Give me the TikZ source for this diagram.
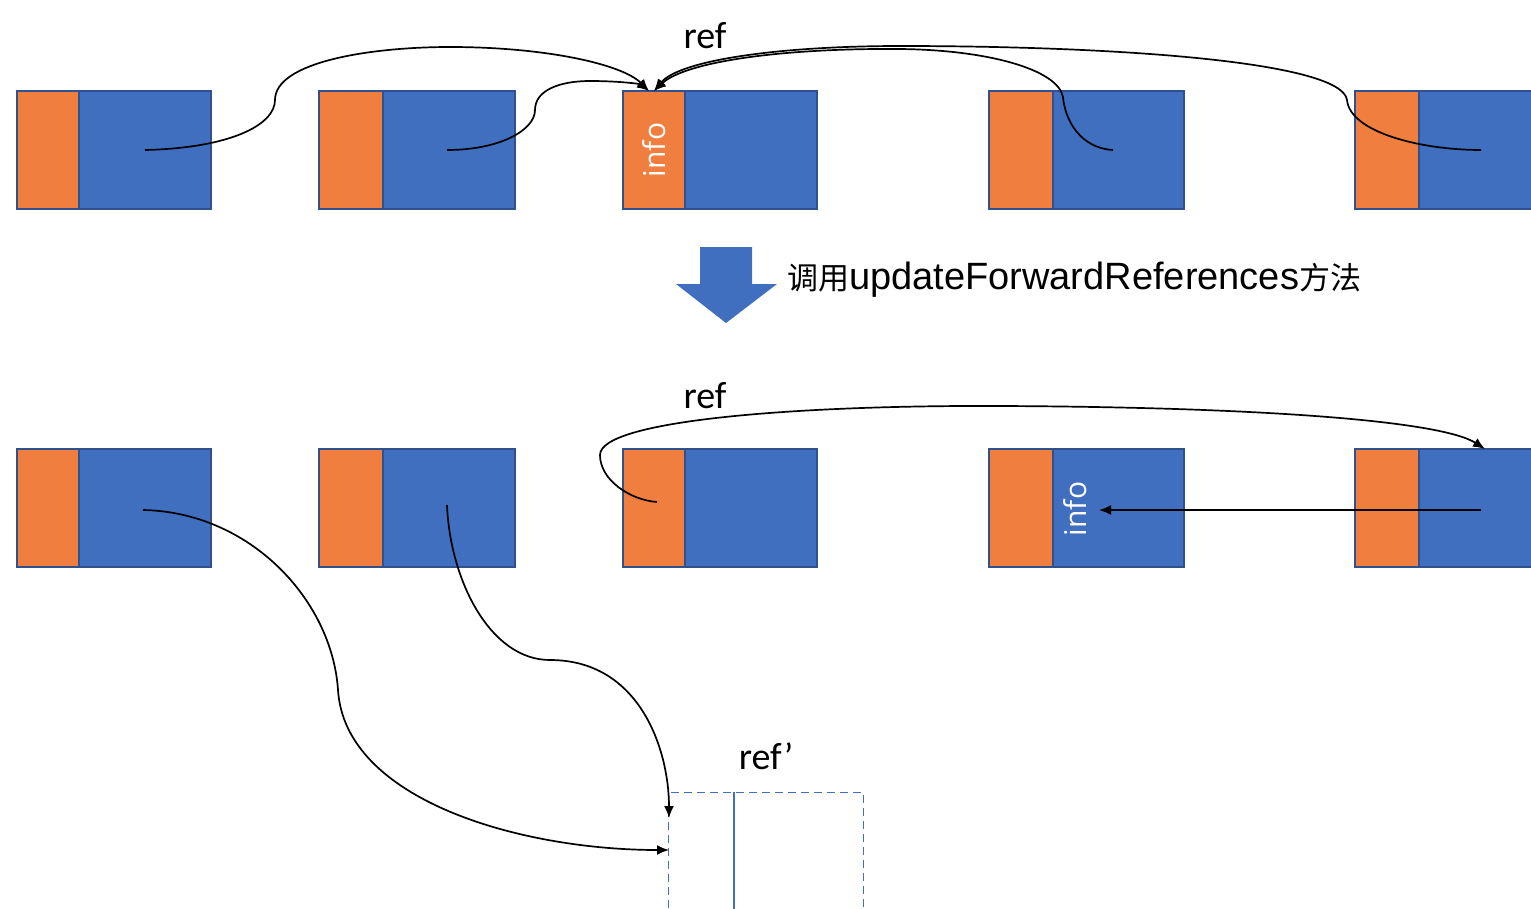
\documentclass[tikz,border=0pt]{standalone}
\usepackage{fontspec}
\setmainfont{Carlito}
\newfontfamily\cjkf{Noto Sans CJK SC}
\newfontfamily\latf{Liberation Sans}
\newfontfamily\infof{Open Sans}
\usetikzlibrary{arrows.meta}
\definecolor{cellorange}{HTML}{F07E3E}
\definecolor{cellblue}{HTML}{3F6FBE}
\definecolor{cellline}{HTML}{2F528F}
\tikzset{
  orangecell/.style={draw=cellline, line width=1.2pt, fill=cellorange, inner sep=0pt, outer sep=0pt, anchor=north west, minimum height=118},
  bluecell/.style={draw=cellline, line width=1.2pt, fill=cellblue, inner sep=0pt, outer sep=0pt, anchor=north west, minimum height=118},
  link/.style={draw=black, line width=1.7pt},
  linkarrow/.style={link, -{Latex[length=12pt,width=10pt]}},
  reflabel/.style={font=\fontsize{38}{40}\selectfont, inner sep=0pt},
  infolabel/.style={font=\infof\fontsize{30}{31}\selectfont, text=white, rotate=90, inner sep=0pt},
}
\begin{document}
\begin{tikzpicture}[x=1pt,y=-1pt]
\useasboundingbox (0,0) rectangle (1531,908);
% rows of cells
\foreach \r/\yy in {a/91,b/449}{
  \foreach \i/\xa/\xb/\xc in {1/17/79/211, 2/319/383/515, 3/623/685/817, 4/989/1053/1184, 5/1355/1419/1560}{
    \pgfmathsetmacro{\wo}{\xb-\xa}
    \pgfmathsetmacro{\wb}{\xc-\xb}
    \node[orangecell, minimum width=\wo] (o\r\i) at (\xa,\yy) {};
    \node[bluecell, minimum width=\wb] (b\r\i) at (\xb,\yy) {};
  }
}
% labels
\node[reflabel] (ref1) at (705,36) {ref};
\node[reflabel] (ref2) at (705,396) {ref};
\node[reflabel] (ref3) at (766,756) {ref’};
\node[infolabel] (info1) at (oa3.center) {info};
\node[infolabel] (info2) at (1075,509) {info};

% block arrow
\path[fill=cellblue] (700,247) -- (752,247) -- (752,284) -- (777,284) -- (726,323) -- (676,284) -- (700,284) -- cycle;
\node[anchor=west, inner sep=0pt] (call) at (787,280) {{\cjkf\fontsize{31}{32}\selectfont 调用}{\latf\fontsize{38}{40}\selectfont updateForwardReferences}{\cjkf\fontsize{31}{32}\selectfont 方法}};

% dashed box
\node[draw=cellblue, dash pattern=on 8pt off 5pt, line width=1.4pt, minimum width=195, minimum height=140, anchor=north west, inner sep=0pt] (nb) at (668,792) {};
\coordinate (nbt) at (734,792);
\coordinate (nbb) at (734,930);
\draw[draw=cellblue, line width=1.4pt] (nbt) -- (nbb);

% start/end points
\coordinate (s1) at (145,150);
\coordinate (s2) at (447,150);
\coordinate (s3) at (1113,150);
\coordinate (s4) at (1481,150);
\coordinate (t1) at (649,91);
\coordinate (t2) at (654,91);
\coordinate (s5) at (657,502);
\coordinate (t5) at (1485,449);
\coordinate (s6) at (1481,510);
\coordinate (t6) at (1099,510);
\coordinate (s7) at (143,510);
\coordinate (t7) at (669,850);
\coordinate (s8) at (447,505);
\coordinate (t8) at (669,818);

% top row connectors
\draw[linkarrow] (s1) .. controls (230,148) and (275,125) .. (275,100)
  .. controls (275,62) and (370,47) .. (450,47)
  .. controls (545,47) and (622,64) .. (t1);
\draw[linkarrow] (s2) .. controls (500,150) and (535,130) .. (535,110)
  .. controls (535,90) and (560,81) .. (590,81)
  .. controls (620,81) and (640,84) .. (t1);
\draw[linkarrow] (s3) .. controls (1080,148) and (1065,120) .. (1063,97)
  .. controls (1058,70) and (990,50) .. (900,49)
  .. controls (780,48) and (685,62) .. (t2);
\draw[linkarrow] (s4) .. controls (1420,150) and (1350,132) .. (1347,100)
  .. controls (1342,62) and (1120,46) .. (900,46)
  .. controls (780,46) and (680,60) .. (t2);

% bottom row connectors
\draw[linkarrow] (s5) .. controls (630,500) and (600,480) .. (600,455)
  .. controls (600,420) and (800,405) .. (1000,406)
  .. controls (1250,407) and (1440,420) .. (t5);
\draw[linkarrow] (s6) -- (t6);
\draw[linkarrow] (s7) .. controls (250,512) and (332,600) .. (338,690)
  .. controls (345,800) and (520,850) .. (t7);
\draw[linkarrow] (s8) .. controls (450,580) and (490,660) .. (550,660)
  .. controls (640,660) and (669,750) .. (t8);
\end{tikzpicture}
\end{document}
